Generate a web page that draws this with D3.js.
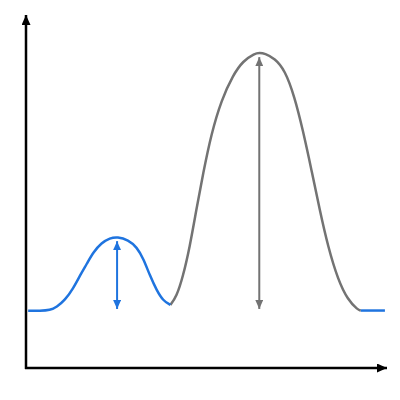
<!DOCTYPE html>
<html>
<head>
<meta charset="utf-8">
<script src="https://cdn.jsdelivr.net/npm/d3@7"></script>
<style>
    body { margin: 0; background: #fff; }
    svg { display: block; }
</style>
</head>
<body>
<div id="chart"></div>
<script>
// curve points (x: 0-100, y: 0-100)
var blueLeft = [
    [0.6, 18.2], [3.9, 18.2], [6.7, 18.4], [8.5, 19.4], [10.8, 21.6], [13.1, 25.3],
    [15, 29.5], [16.9, 33.2], [18.7, 36.9], [21, 39.9], [23.3, 41.4], [25.4, 41.8],
    [28.4, 40.8], [30.8, 38.5], [32.6, 34.8], [34.4, 29.5], [36.3, 24.7],
    [38.1, 21.4], [40.1, 20.1]
];
var grayPeak = [
    [40.1, 20.1], [41.8, 22.7], [43.6, 29.1], [45.5, 38.6], [47.3, 50.3], [49.2, 62],
    [51.5, 74.7], [54.3, 85.4], [57.5, 93.3], [60.3, 97.8], [63.5, 100.2], [64.9, 100.4],
    [66.3, 100.2], [69.1, 98.6], [71.9, 94.9], [74.6, 86.4], [76.9, 75.8], [79.3, 63.1],
    [81.6, 50.3], [83.9, 38.6], [86.7, 28], [89.4, 21.7], [92.2, 18.5], [93, 18.3]
];
var blueRight = [[93, 18.3], [99.7, 18.3]];

// double arrows: [x, bottom, top]
var blueArrow = [25.3, 18.8, 40.4];
var grayArrow = [64.8, 18.8, 99];

var blue = '#1f74df';
var gray = '#737373';

var width = 400;
var height = 400;

var x = d3.scaleLinear().domain([0, 100]).range([26, 386]);
var y = d3.scaleLinear().domain([0, 100]).range([368, 54]);

var svg = d3.select('#chart')
    .append('svg')
    .attr('width', width)
    .attr('height', height);

var defs = svg.append('defs');

function addMarker(id, color, w, l) {
    defs.append('marker')
        .attr('id', id)
        .attr('markerUnits', 'userSpaceOnUse')
        .attr('markerWidth', l)
        .attr('markerHeight', w)
        .attr('viewBox', '0 0 ' + l + ' ' + w)
        .attr('refX', l)
        .attr('refY', w / 2)
        .attr('orient', 'auto-start-reverse')
        .append('path')
        .attr('d', 'M0,0L' + l + ',' + (w / 2) + 'L0,' + w + 'Z')
        .attr('fill', color);
}

addMarker('axis-head', '#000', 9, 10);
addMarker('blue-head', blue, 8, 9);
addMarker('gray-head', gray, 8, 9);

// axes
svg.append('line')
    .attr('x1', x(0)).attr('x2', x(0))
    .attr('y1', y(0) + 1).attr('y2', 15)
    .attr('stroke', '#000')
    .attr('stroke-width', 2.5)
    .attr('marker-end', 'url(#axis-head)');

svg.append('line')
    .attr('x1', x(0) - 1).attr('x2', 387)
    .attr('y1', y(0)).attr('y2', y(0))
    .attr('stroke', '#000')
    .attr('stroke-width', 2.5)
    .attr('marker-end', 'url(#axis-head)');

// basis smooths out small reading errors
var line = d3.line()
    .x(function(d) { return x(d[0]); })
    .y(function(d) { return y(d[1]); })
    .curve(d3.curveBasis);

svg.append('path')
    .attr('d', line(grayPeak))
    .attr('fill', 'none')
    .attr('stroke', gray)
    .attr('stroke-width', 2.5);

[blueLeft, blueRight].forEach(function(pts) {
    svg.append('path')
        .attr('d', line(pts))
        .attr('fill', 'none')
        .attr('stroke', blue)
        .attr('stroke-width', 2.5);
});

function drawArrow(a, color, id) {
    svg.append('line')
        .attr('x1', x(a[0])).attr('x2', x(a[0]))
        .attr('y1', y(a[1])).attr('y2', y(a[2]))
        .attr('stroke', color)
        .attr('stroke-width', 2)
        .attr('marker-start', 'url(#' + id + ')')
        .attr('marker-end', 'url(#' + id + ')');
}

drawArrow(blueArrow, blue, 'blue-head');
drawArrow(grayArrow, gray, 'gray-head');
</script>
</body>
</html>
